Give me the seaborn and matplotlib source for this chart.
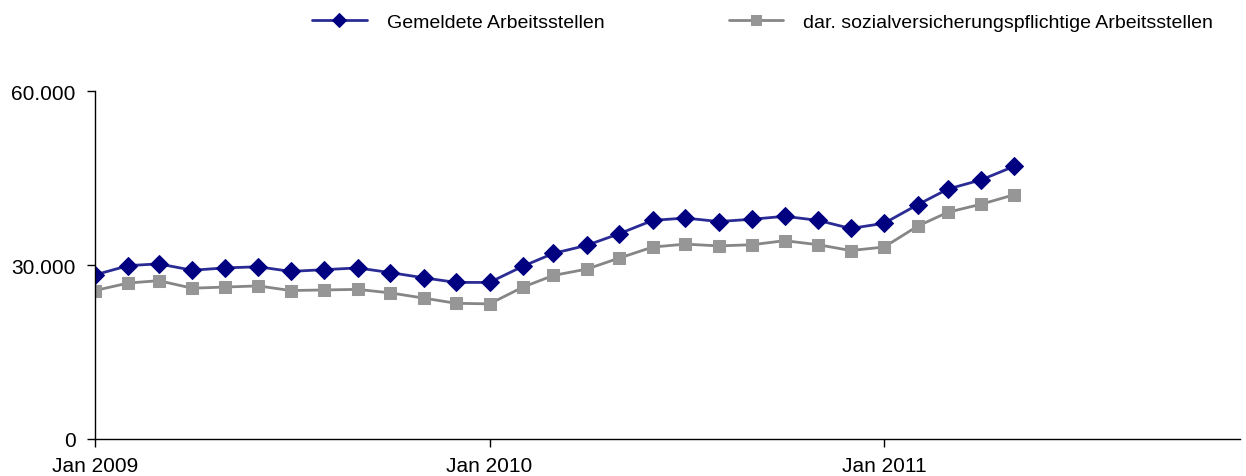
import pandas as pd
import numpy as np
import seaborn as sns
import matplotlib.pyplot as plt
import matplotlib.dates as mdates
from matplotlib.ticker import FuncFormatter

# monthly values Jan 2009 - May 2011
months = pd.date_range("2009-01-01", periods=29, freq="MS")
gemeldet = [28300, 29900, 30200, 29100, 29500, 29700, 28900, 29200, 29500, 28700,
            27800, 27000, 27000, 29800, 32000, 33400, 35400, 37700, 38100, 37500,
            37900, 38400, 37700, 36300, 37200, 40400, 43100, 44700, 47000]
svp = [25600, 26900, 27300, 26000, 26200, 26400, 25600, 25700, 25800, 25200,
       24300, 23400, 23300, 26200, 28200, 29300, 31200, 33100, 33600, 33300,
       33500, 34200, 33500, 32500, 33100, 36700, 39100, 40500, 42100]
label_a = "Gemeldete Arbeitsstellen"
label_b = "dar. sozialversicherungspflichtige Arbeitsstellen"

sns.set_style("white")
plt.rcParams['font.family'] = ['Liberation Sans', 'DejaVu Sans']

fig, ax = plt.subplots(figsize=(12.46, 4.77), dpi=100)
fig.subplots_adjust(left=0.0762, right=0.995, bottom=0.0776, top=0.807)

sns.lineplot(x=months, y=gemeldet, ax=ax, color="#2B2B96", lw=2, marker="D",
             markersize=9, markerfacecolor="#000080", markeredgecolor="#000080",
             label=label_a)
sns.lineplot(x=months, y=svp, ax=ax, color="#868686", lw=2, marker="s",
             markersize=9, markerfacecolor="#969696", markeredgecolor="#969696",
             label=label_b)

ax.set_ylim(0, 60000)
ax.set_yticks([0, 30000, 60000])
ax.yaxis.set_major_formatter(FuncFormatter(lambda v, p: f"{int(v):,}".replace(",", ".")))
ax.set_xlim(pd.Timestamp("2009-01-01"), pd.Timestamp("2011-11-26"))
ax.set_xticks([pd.Timestamp("2009-01-01"), pd.Timestamp("2010-01-01"), pd.Timestamp("2011-01-01")])
ax.xaxis.set_major_formatter(mdates.DateFormatter("Jan %Y"))

for s in ["top", "right"]:
    ax.spines[s].set_visible(False)
for s in ["left", "bottom"]:
    ax.spines[s].set_color("black")
    ax.spines[s].set_linewidth(1)
ax.tick_params(axis="both", which="major", length=6, width=1, color="black",
               labelsize=15, labelcolor="black", direction="out", bottom=True, left=True)
ax.tick_params(axis="y", pad=8)
ax.tick_params(axis="x", pad=6)
ax.set_xlabel("")
ax.set_ylabel("")

ax.get_legend().remove()
h, l = ax.get_legend_handles_labels()
fig.legend(h, l, loc="center", bbox_to_anchor=(0.612, 0.952), ncol=2, frameon=False,
           fontsize=14, handlelength=2.8, handletextpad=1.03, columnspacing=6.4,
           markerscale=0.8, labelcolor="black")

fig.savefig("out.png", dpi=100)
